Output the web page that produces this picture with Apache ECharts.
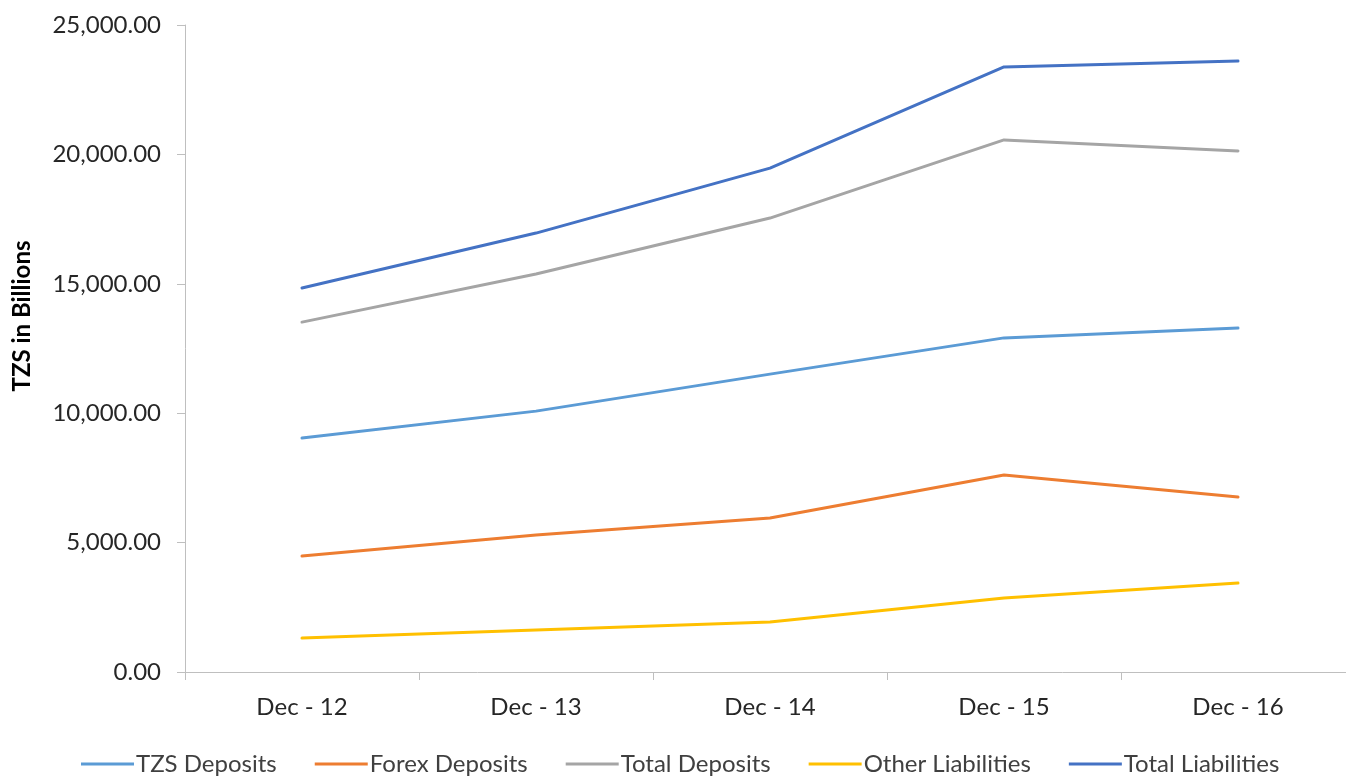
<!DOCTYPE html>
<html>
<head>
<meta charset="utf-8">
<script src="https://cdn.jsdelivr.net/npm/echarts@6/dist/echarts.min.js"></script>
<style>
  html, body { margin: 0; padding: 0; background: #fff; overflow: hidden; }
  /* the plot runs slightly past the right edge of the window */
  #chart { width: 1356px; height: 776px; }
</style>
</head>
<body>
<div id="chart"></div>
<script>
// Balance sheet liabilities, TZS billions
const categories = ['Dec - 12', 'Dec - 13', 'Dec - 14', 'Dec - 15', 'Dec - 16'];
const tzsDeposits = [9040, 10080, 11510, 12910, 13290];
const forexDeposits = [4480, 5290, 5950, 7610, 6760];
const totalDeposits = [13520, 15380, 17540, 20560, 20130];
const otherLiabilities = [1310, 1620, 1930, 2860, 3440];
const totalLiabilities = [14840, 16960, 19470, 23380, 23610];
const seriesNames = ['TZS Deposits', 'Forex Deposits', 'Total Deposits', 'Other Liabilities', 'Total Liabilities'];
const seriesColors = ['#5B9BD5', '#ED7D31', '#A5A5A5', '#FFC000', '#4472C4'];
const seriesData = [tzsDeposits, forexDeposits, totalDeposits, otherLiabilities, totalLiabilities];
const yTitle = 'TZS in Billions';

const FONT = 'Lato, "Open Sans", sans-serif';
const chart = echarts.init(document.getElementById('chart'));

chart.setOption({
  animation: false,
  grid: { left: 185, right: 1, top: 25, bottom: 104, containLabel: false },
  graphic: [{
    type: 'text',
    x: 22,
    y: 316,
    rotation: Math.PI / 2,
    style: {
      text: yTitle,
      fontFamily: FONT,
      fontSize: 24,
      fontWeight: 'bold',
      fill: '#000',
      align: 'center',
      verticalAlign: 'middle'
    }
  }],
  legend: {
    bottom: -5,
    left: 76,
    itemWidth: 53,
    itemHeight: 3,
    itemGap: 38,
    icon: 'rect',
    textStyle: { fontFamily: FONT, fontSize: 24, color: '#404040', padding: [0, 0, 0, -3] },
    data: seriesNames
  },
  xAxis: {
    type: 'category',
    data: categories,
    boundaryGap: true,
    axisLine: { lineStyle: { color: '#BFBFBF', width: 1 } },
    axisTick: { show: true, length: 8, lineStyle: { color: '#BFBFBF' } },
    axisLabel: { fontFamily: FONT, fontSize: 24, color: '#262626', margin: 23 }
  },
  yAxis: {
    type: 'value',
    min: 0,
    max: 25000,
    interval: 5000,
    splitLine: { show: false },
    axisLine: { show: true, lineStyle: { color: '#BFBFBF', width: 1 } },
    axisTick: { show: true, length: 8, lineStyle: { color: '#BFBFBF' } },
    axisLabel: {
      fontFamily: FONT, fontSize: 24, color: '#262626', margin: 24,
      formatter: v => v.toLocaleString('en-US', { minimumFractionDigits: 2, maximumFractionDigits: 2 })
    }
  },
  series: seriesNames.map((name, i) => ({
    name,
    type: 'line',
    data: seriesData[i],
    symbol: 'none',
    color: seriesColors[i],
    lineStyle: { width: 3, color: seriesColors[i], cap: 'round', join: 'round' }
  }))
});
</script>
</body>
</html>
